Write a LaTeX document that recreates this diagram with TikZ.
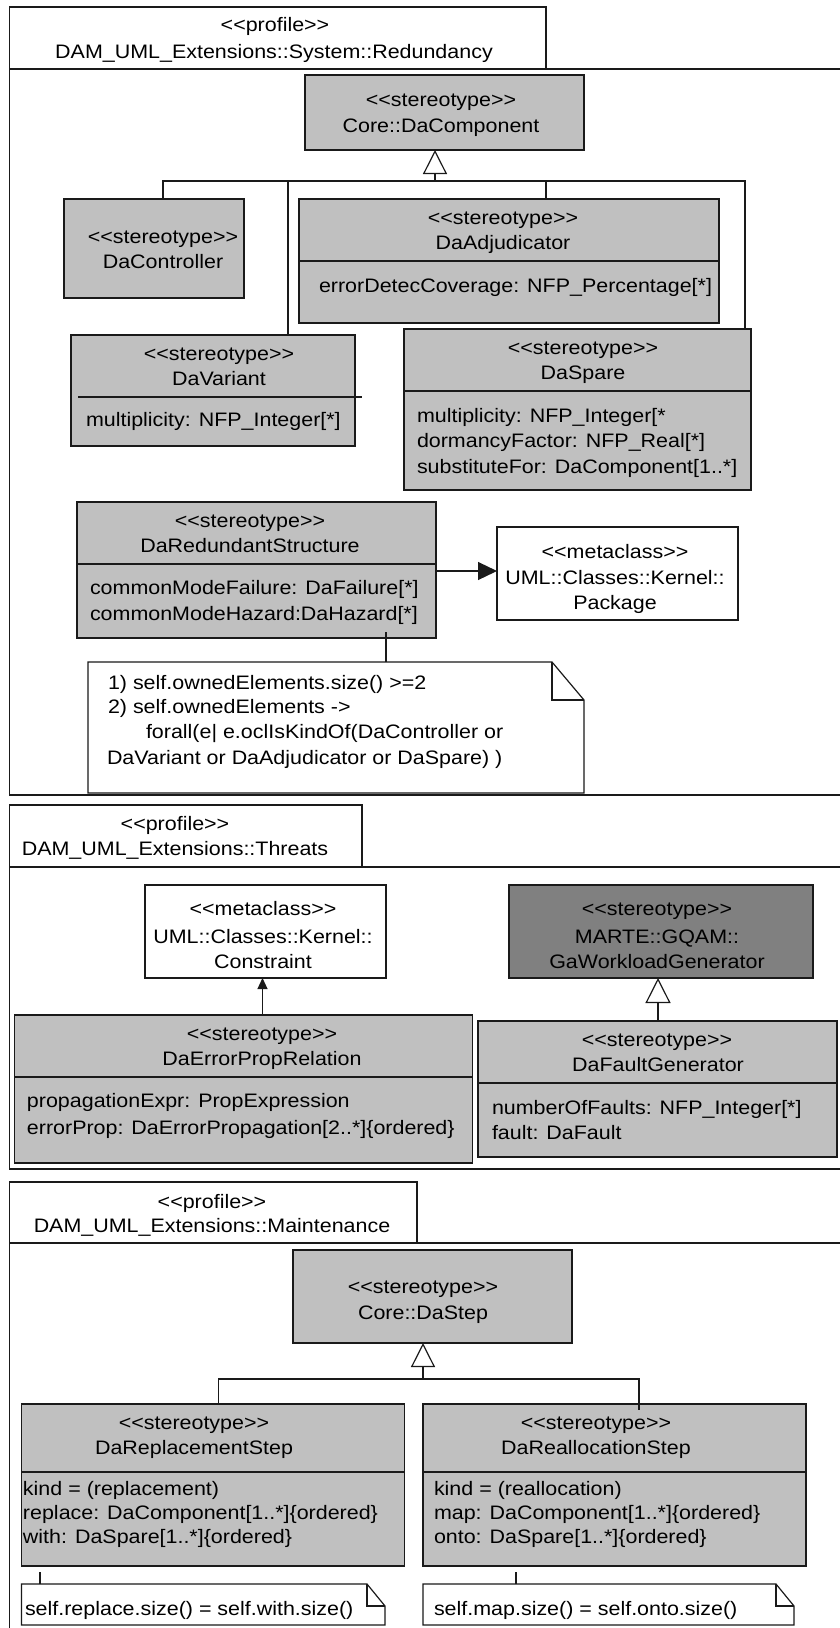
\documentclass[tikz,border=0pt]{standalone}
\usepackage{fontspec}
\setmainfont{Liberation Sans}[FakeStretch=1.1]
\usetikzlibrary{arrows.meta,fit}
\definecolor{boxgray}{HTML}{C0C0C0}
\definecolor{darkbox}{HTML}{808080}
\definecolor{ink}{HTML}{1A1A1A}
\newcommand{\umlfont}{\fontsize{19.5}{25.5}\selectfont}
% keep << and >> as plain angle brackets (no guillemet ligature)
\newcommand{\stereo}[1]{<{}<#1>{}>}
\begin{document}
\begin{tikzpicture}[x=1pt,y=-1pt,
  cls/.style={draw=ink, line width=1.3pt, fill=boxgray, inner sep=0pt, outer sep=0pt},
  meta/.style={cls, fill=white},
  dark/.style={cls, fill=darkbox},
  tab/.style={cls, fill=white, line width=1.4pt},
  hole/.style={inner sep=0pt, outer sep=0pt},
  frm/.style={draw=ink, line width=1.4pt},
  txt/.style={inner sep=0pt, outer sep=0pt, anchor=mid, yshift=-4pt, font=\umlfont, text=black},
  attr/.style={txt, anchor=mid west},
  conn/.style={draw=ink, line width=1.2pt},
  gen/.style={conn, -{Triangle[open, length=24pt, width=24pt, fill=white]}},
  assoc/.style={conn, -{Triangle[length=19pt, width=18pt]}},
  ext/.style={conn, -{Triangle[length=11pt, width=10pt]}},
  notebody/.style={draw=ink, line width=1.2pt, fill=white},
  fold/.style={draw=ink, line width=1.2pt}]

\path[use as bounding box, fill=white] (0,0) rectangle (840,1628);

% ---------------- Redundancy profile ----------------
\draw[frm] (840,69) -- (9.6,69) -- (9.6,795) -- (840,795);
\node[tab, fit={(9.6,7) (546,69)}] (tab1) {};
\node[txt] (tab1-s) at (275,25) {\stereo{profile}};
\node[txt] (tab1-n) at (274,52) {DAM\_UML\_Extensions::System::Redundancy};

\node[cls, fit={(305,75) (584,150)}] (comp) {};
\node[txt] (comp-s) at (441,100) {\stereo{stereotype}};
\node[txt] (comp-n) at (441,126) {Core::DaComponent};

\node[cls, fit={(64,199) (244,298)}] (ctrl) {};
\node[txt] (ctrl-s) at (163,237) {\stereo{stereotype}};
\node[txt] (ctrl-n) at (163,262) {DaController};

\node[cls, fit={(299,199) (719,323)}] (adj) {};
\draw[conn] (adj.west |- 0,261) -- (adj.east |- 0,261);
\node[txt] (adj-s) at (503,218) {\stereo{stereotype}};
\node[txt] (adj-n) at (503,243) {DaAdjudicator};
\node[attr] (adj-a) at (319,286) {errorDetecCoverage: NFP\_Percentage[*]};

\node[cls, fit={(71,335) (355,446)}] (var) {};
\draw[conn] (78,397) -- (362,397);
\node[txt] (var-s) at (219,354) {\stereo{stereotype}};
\node[txt] (var-n) at (219,379) {DaVariant};
\node[attr] (var-a) at (86,420) {multiplicity: NFP\_Integer[*]};

\node[cls, fit={(404,329) (751,490)}] (spare) {};
\draw[conn] (spare.west |- 0,391) -- (spare.east |- 0,391);
\node[txt] (spare-s) at (583,348) {\stereo{stereotype}};
\node[txt] (spare-n) at (583,373) {DaSpare};
\node[attr] (spare-a1) at (417,416) {multiplicity: NFP\_Integer[*};
\node[attr] (spare-a2) at (417,441) {dormancyFactor: NFP\_Real[*]};
\node[attr] (spare-a3) at (417,467) {substituteFor: DaComponent[1..*]};

% generalisation tree towards Core::DaComponent
\coordinate (j1) at (435,181);
\draw[gen] (j1) -- (j1 |- comp.south);
\draw[conn] (163,0 |- ctrl.north) -- (163,181) -- (745,181) -- (745,0 |- spare.north);
\draw[conn] (288,181) -- (288,0 |- var.north);
\draw[conn] (546,181) -- (546,0 |- adj.north);

\node[cls, fit={(77,502) (436,638)}] (red) {};
\draw[conn] (red.west |- 0,564) -- (red.east |- 0,564);
\node[txt] (red-s) at (250,521) {\stereo{stereotype}};
\node[txt] (red-n) at (250,546) {DaRedundantStructure};
\node[attr] (red-a1) at (90,588) {commonModeFailure: DaFailure[*]};
\node[attr] (red-a2) at (90,614) {commonModeHazard:DaHazard[*]};

\node[meta, fit={(497,527) (738,620)}] (pkg) {};
\node[txt] (pkg-1) at (615,552) {\stereo{metaclass}};
\node[txt] (pkg-2) at (615,578) {UML::Classes::Kernel::};
\node[txt] (pkg-3) at (615,603) {Package};
\draw[assoc] (red.east |- 0,571) -- (pkg.west |- 0,571);

% constraint note
\node[hole, fit={(88,662) (584,793)}] (note1) {};
\draw[notebody] (note1.south west) -- (note1.north west) -- ([xshift=-32pt]note1.north east)
  -- ([yshift=-38pt]note1.north east) -- (note1.south east) -- cycle;
\draw[fold] ([xshift=-32pt]note1.north east) -- ([xshift=-32pt,yshift=-38pt]note1.north east)
  -- ([yshift=-38pt]note1.north east);
\coordinate (n1a) at (386,632);
\draw[conn] (n1a) -- (n1a |- note1.north);
\node[attr] (note1-1) at (108,683) {1) self.ownedElements.size() >=2};
\node[attr] (note1-2) at (108,707) {2) self.ownedElements ->};
\node[attr] (note1-3) at (146,732) {forall(e| e.oclIsKindOf(DaController or};
\node[attr] (note1-4) at (107,758) {DaVariant or DaAdjudicator or DaSpare) )};

% ---------------- Threats profile ----------------
\draw[frm] (840,867) -- (9.6,867) -- (9.6,1169) -- (840,1169);
\node[tab, fit={(9.6,805) (362,867)}] (tab2) {};
\node[txt] (tab2-s) at (175,824) {\stereo{profile}};
\node[txt] (tab2-n) at (175,849) {DAM\_UML\_Extensions::Threats};

\node[meta, fit={(145,885) (386,978)}] (cons) {};
\node[txt] (cons-1) at (263,909) {\stereo{metaclass}};
\node[txt] (cons-2) at (263,937) {UML::Classes::Kernel::};
\node[txt] (cons-3) at (263,962) {Constraint};

\node[cls, fit={(14.5,1015) (472.5,1163)}] (errp) {};
\draw[conn] (errp.west |- 0,1077) -- (errp.east |- 0,1077);
\node[txt] (errp-s) at (262,1034) {\stereo{stereotype}};
\node[txt] (errp-n) at (262,1059) {DaErrorPropRelation};
\node[attr] (errp-a1) at (27,1101) {propagationExpr: PropExpression};
\node[attr] (errp-a2) at (27,1128) {errorProp: DaErrorPropagation[2..*]\{ordered\}};
\draw[ext] (262.5,0 |- errp.north) -- (262.5,0 |- cons.south);

\node[dark, fit={(509,885) (813,978)}] (gawl) {};
\node[txt] (gawl-1) at (657,909) {\stereo{stereotype}};
\node[txt] (gawl-2) at (657,937) {MARTE::GQAM::};
\node[txt] (gawl-3) at (657,962) {GaWorkloadGenerator};

\node[cls, fit={(478,1021) (837,1157)}] (fault) {};
\draw[conn] (fault.west |- 0,1083) -- (fault.east |- 0,1083);
\node[txt] (fault-s) at (657,1040) {\stereo{stereotype}};
\node[txt] (fault-n) at (658,1065) {DaFaultGenerator};
\node[attr] (fault-a1) at (492,1108) {numberOfFaults: NFP\_Integer[*]};
\node[attr] (fault-a2) at (492,1133) {fault: DaFault};
\draw[gen, -{Triangle[open, length=25pt, width=25pt, fill=white]}] (658,0 |- fault.north) -- (658,0 |- gawl.south);

% ---------------- Maintenance profile ----------------
\draw[frm] (840,1243) -- (9.6,1243) -- (9.6,1628);
\node[tab, fit={(9.6,1182) (417,1243)}] (tab3) {};
\node[txt] (tab3-s) at (212,1202) {\stereo{profile}};
\node[txt] (tab3-n) at (212,1226) {DAM\_UML\_Extensions::Maintenance};

\node[cls, fit={(293,1250) (572,1343)}] (step) {};
\node[txt] (step-s) at (423,1287) {\stereo{stereotype}};
\node[txt] (step-n) at (423,1313) {Core::DaStep};

\node[cls, fit={(21.4,1404) (404.5,1566)}] (repl) {};
\draw[conn] (repl.west |- 0,1472) -- (repl.east |- 0,1472);
\node[txt] (repl-s) at (194,1423) {\stereo{stereotype}};
\node[txt] (repl-n) at (194,1448) {DaReplacementStep};
\node[attr] (repl-a1) at (23,1489) {kind = (replacement)};
\node[attr] (repl-a2) at (23,1513) {replace: DaComponent[1..*]\{ordered\}};
\node[attr] (repl-a3) at (23,1537) {with: DaSpare[1..*]\{ordered\}};

\node[cls, fit={(423,1404) (806,1566)}] (real) {};
\draw[conn] (real.west |- 0,1472) -- (real.east |- 0,1472);
\node[txt] (real-s) at (596,1423) {\stereo{stereotype}};
\node[txt] (real-n) at (596,1448) {DaReallocationStep};
\node[attr] (real-a1) at (434,1489) {kind = (reallocation)};
\node[attr] (real-a2) at (434,1513) {map: DaComponent[1..*]\{ordered\}};
\node[attr] (real-a3) at (434,1537) {onto: DaSpare[1..*]\{ordered\}};

\coordinate (j3) at (423,1379);
\coordinate (r3) at (639,1410);
\draw[gen] (j3) -- (j3 |- step.south);
\draw[conn] (218.6,0 |- repl.north) -- (218.6,1379) -- (639,1379) -- (r3);

% notes under the two steps
\node[hole, fit={(21.4,1584) (385,1625)}] (note2) {};
\draw[notebody] (note2.south west) -- (note2.north west) -- ([xshift=-18pt]note2.north east)
  -- ([yshift=-22pt]note2.north east) -- (note2.south east) -- cycle;
\draw[fold] ([xshift=-18pt]note2.north east) -- ([xshift=-18pt,yshift=-22pt]note2.north east)
  -- ([yshift=-22pt]note2.north east);
\coordinate (n2a) at (40,1572);
\draw[conn] (n2a) -- (n2a |- note2.north);
\node[attr] (note2-t) at (25,1609) {self.replace.size() = self.with.size()};

\node[hole, fit={(423,1584) (794,1625)}] (note3) {};
\draw[notebody] (note3.south west) -- (note3.north west) -- ([xshift=-18pt]note3.north east)
  -- ([yshift=-22pt]note3.north east) -- (note3.south east) -- cycle;
\draw[fold] ([xshift=-18pt]note3.north east) -- ([xshift=-18pt,yshift=-22pt]note3.north east)
  -- ([yshift=-22pt]note3.north east);
\coordinate (n3a) at (516,1572);
\draw[conn] (n3a) -- (n3a |- note3.north);
\node[attr] (note3-t) at (434,1609) {self.map.size() = self.onto.size()};
\end{tikzpicture}
\end{document}
